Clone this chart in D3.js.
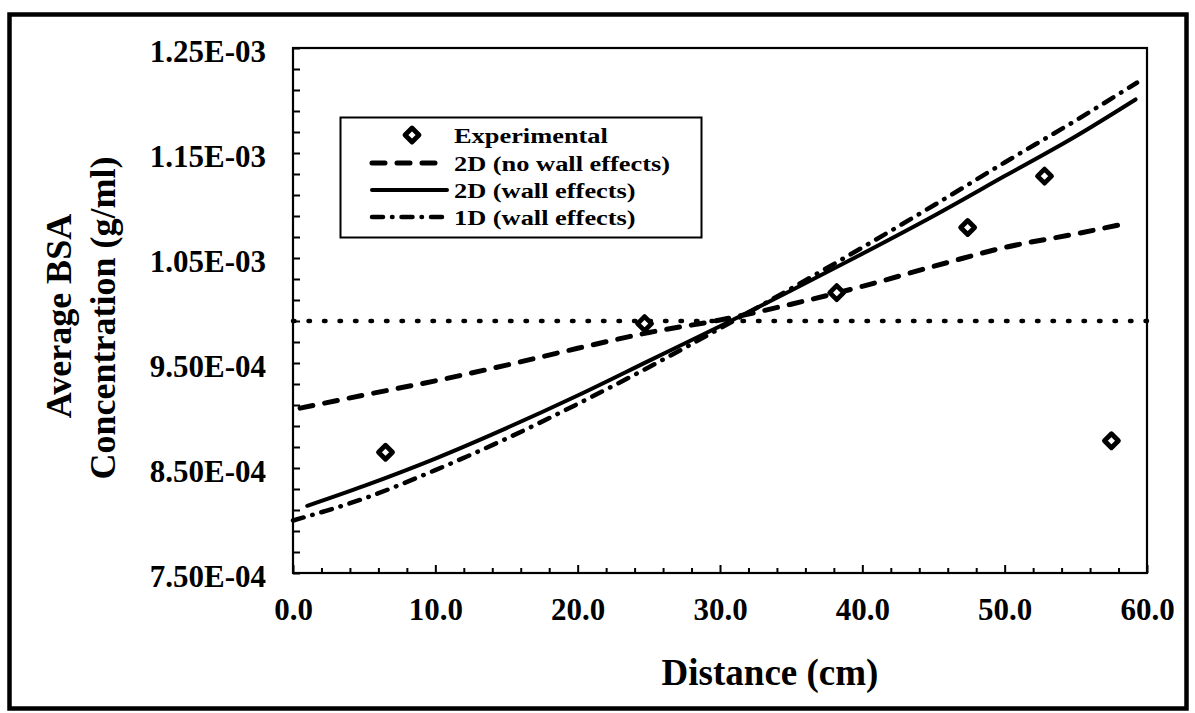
<!DOCTYPE html>
<html><head><meta charset="utf-8">
<script src="https://cdn.jsdelivr.net/npm/d3@7"></script>
<style>body{margin:0;background:#fff}</style>
</head><body><svg id="c" width="1195" height="713"></svg>
<script>
// ---- data ----
const expX = [6.5, 24.7, 38.2, 47.4, 52.8, 57.5];
const expY = [8.65e-4, 9.875e-4, 1.017e-3, 1.079e-3, 1.128e-3, 8.76e-4];

const noWallX = [0.5, 5, 10, 15, 20, 25, 30, 35, 40, 45, 50, 55, 58.2];
const noWallY = [9.07e-4, 9.195e-4, 9.33e-4, 9.48e-4, 9.64e-4, 9.79e-4, 9.91e-4, 1.006e-3, 1.023e-3, 1.042e-3, 1.060e-3, 1.073e-3, 1.082e-3];

const wallX = [1, 5, 10, 15, 20, 25, 30, 35, 40, 45, 50, 55, 59.2];
const wallY = [8.14e-4, 8.33e-4, 8.59e-4, 8.88e-4, 9.19e-4, 9.52e-4, 9.85e-4, 1.019e-3, 1.054e-3, 1.090e-3, 1.128e-3, 1.166e-3, 1.201e-3];

const oneDX = [0, 5, 10, 15, 20, 25, 30, 35, 40, 45, 50, 55, 59.3];
const oneDY = [8.00e-4, 8.21e-4, 8.48e-4, 8.78e-4, 9.11e-4, 9.46e-4, 9.83e-4, 1.021e-3, 1.060e-3, 1.100e-3, 1.141e-3, 1.181e-3, 1.217e-3];

const refX = [0, 60];
const refY = [9.9e-4, 9.9e-4];

const xTickValues = [0, 10, 20, 30, 40, 50, 60];
const xTickLabels = ["0.0", "10.0", "20.0", "30.0", "40.0", "50.0", "60.0"];
const yTickValues = [7.5e-4, 8.5e-4, 9.5e-4, 1.05e-3, 1.15e-3, 1.25e-3];
const yTickLabels = ["7.50E-04", "8.50E-04", "9.50E-04", "1.05E-03", "1.15E-03", "1.25E-03"];
const legendLabels = ["Experimental", "2D (no wall effects)", "2D (wall effects)", "1D (wall effects)"];

// ---- drawing ----
const FONT = "'Liberation Serif', 'Times New Roman', serif";
const svg = d3.select("#c");
svg.append("rect").attr("width", 1195).attr("height", 713).attr("fill", "#fff");
svg.append("rect").attr("x", 9.5).attr("y", 14.5).attr("width", 1177).attr("height", 694)
  .attr("fill", "none").attr("stroke", "#000").attr("stroke-width", 4.5);

const x = d3.scaleLinear().domain([0, 60]).range([293, 1147]);
const y = d3.scaleLinear().domain([7.5e-4, 1.25e-3]).range([573, 48]);

// plot frame
svg.append("rect").attr("x", 293).attr("y", 48).attr("width", 1147 - 293).attr("height", 573 - 48)
  .attr("fill", "none").attr("stroke", "#000").attr("stroke-width", 2.2);

const xMinor = d3.range(0, 60.001, 2);
const yMinor = d3.range(0, 26).map(i => 7.5e-4 + i * 2e-5);
const isMaj = (arr, d) => arr.findIndex(v => Math.abs(v - d) < 1e-9);

const yAxis = svg.append("g").attr("transform", "translate(293,0)")
  .call(d3.axisLeft(y).tickValues(yMinor).tickSize(-7).tickPadding(27)
    .tickFormat(d => { const i = isMaj(yTickValues, d); return i >= 0 ? yTickLabels[i] : ""; }));
yAxis.select(".domain").remove();
yAxis.selectAll("line").attr("stroke", "#000").attr("stroke-width", 2);
yAxis.selectAll("text").attr("font-family", FONT).attr("font-size", 31).attr("font-weight", "bold")
  .attr("fill", "#000").attr("dy", "0.45em");

const xAxis = svg.append("g").attr("transform", "translate(0,573)")
  .call(d3.axisBottom(x).tickValues(xMinor).tickSize(-4).tickPadding(25)
    .tickFormat(d => { const i = isMaj(xTickValues, d); return i >= 0 ? xTickLabels[i] : ""; }));
xAxis.select(".domain").remove();
xAxis.selectAll("line").attr("stroke", "#000").attr("stroke-width", 2)
  .attr("y2", d => isMaj(xTickValues, d) >= 0 ? -8 : -5);
xAxis.selectAll("text").attr("font-family", FONT).attr("font-size", 31).attr("font-weight", "bold").attr("fill", "#000");

// axis titles
svg.append("text").attr("x", 770).attr("y", 685).attr("text-anchor", "middle")
  .attr("font-family", FONT).attr("font-size", 37).attr("font-weight", "bold").text("Distance (cm)");
svg.append("text").attr("transform", "translate(71,316) rotate(-90)").attr("text-anchor", "middle")
  .attr("font-family", FONT).attr("font-size", 36).attr("font-weight", "bold").text("Average BSA");
svg.append("text").attr("transform", "translate(115,318) rotate(-90)").attr("text-anchor", "middle")
  .attr("font-family", FONT).attr("font-size", 36).attr("font-weight", "bold").text("Concentration (g/ml)");

// lines
const line = d3.line().x(d => x(d[0])).y(d => y(d[1])).curve(d3.curveMonotoneX);
const styles = {
  ref:    {w: 4.5, dash: "1.5,14"},
  noWall: {w: 5, dash: "13,12"},
  wall:   {w: 4, dash: null},
  oneD:   {w: 4.5, dash: "11,9,0.5,9"}
};
function drawLine(xs, ys, st) {
  svg.append("path").datum(xs.map((v, i) => [v, ys[i]])).attr("d", line)
    .attr("fill", "none").attr("stroke", "#000").attr("stroke-width", st.w)
    .attr("stroke-linecap", "round").attr("stroke-dasharray", st.dash);
}
drawLine(refX, refY, styles.ref);
drawLine(noWallX, noWallY, styles.noWall);
drawLine(wallX, wallY, styles.wall);
drawLine(oneDX, oneDY, styles.oneD);

const diamond = "M0,-7L7,0L0,7L-7,0Z";
svg.append("g").selectAll("path").data(expX.map((v, i) => [v, expY[i]])).join("path")
  .attr("d", diamond).attr("transform", d => `translate(${x(d[0])},${y(d[1])})`)
  .attr("fill", "#fff").attr("stroke", "#000").attr("stroke-width", 4.8).attr("stroke-linejoin", "round");

// legend
const lg = svg.append("g");
lg.append("rect").attr("x", 340.5).attr("y", 117.5).attr("width", 361).attr("height", 120)
  .attr("fill", "#fff").attr("stroke", "#000").attr("stroke-width", 2);
const rowY = [135, 163, 190, 217];
lg.append("path").attr("d", diamond).attr("transform", `translate(412,${rowY[0]})`)
  .attr("fill", "#fff").attr("stroke", "#000").attr("stroke-width", 4.8).attr("stroke-linejoin", "round");
[styles.noWall, styles.wall, styles.oneD].forEach((st, i) => {
  lg.append("line").attr("x1", 372).attr("x2", 447).attr("y1", rowY[i + 1]).attr("y2", rowY[i + 1])
    .attr("stroke", "#000").attr("stroke-width", st.w).attr("stroke-linecap", "round")
    .attr("stroke-dasharray", st.dash);
});
legendLabels.forEach((t, i) => {
  lg.append("text").attr("transform", `translate(454,${rowY[i]}) scale(1.2,1)`).attr("dy", "0.35em")
    .attr("font-family", FONT).attr("font-size", 22).attr("font-weight", "bold").text(t);
});
</script></body></html>
